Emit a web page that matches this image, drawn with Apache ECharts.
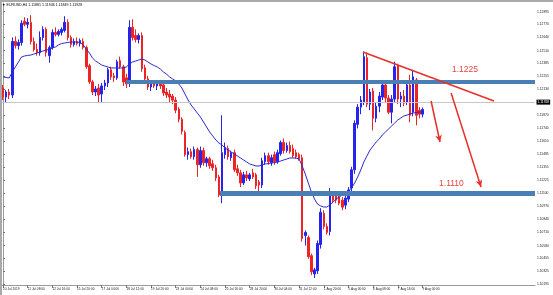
<!DOCTYPE html>
<html><head><meta charset="utf-8">
<script src="https://cdn.jsdelivr.net/npm/echarts@6/dist/echarts.min.js"></script>
<style>html,body{margin:0;padding:0;background:#fff}#c{width:553px;height:295px}</style>
</head><body><div id="c"></div>
<script>
const symbolName = 'EURUSD,H4';
const xTickLabels = ['10 Jul 2019','11 Jul 08:00','12 Jul 16:00','15 Jul 20:00','17 Jul 04:00','18 Jul 12:00','19 Jul 20:00','23 Jul 00:00','24 Jul 08:00','25 Jul 16:00','28 Jul 20:00','30 Jul 04:00','31 Jul 12:00','1 Aug 20:00','5 Aug 00:00','6 Aug 08:00','7 Aug 16:00','9 Aug 00:00'];
const yTickValues = [1.10195,1.10325,1.10455,1.10580,1.10710,1.10840,1.10970,1.11100,1.11225,1.11355,1.11485,1.11610,1.11740,1.11870,1.12000,1.12130,1.12255,1.12385,1.12510,1.12640,1.12770,1.12895];
const opens = [1.1214,1.1205,1.1210,1.1207,1.1260,1.1256,1.1259,1.1280,1.1277,1.1279,
1.1260,1.1252,1.1249,1.1264,1.1272,1.1246,1.1254,1.1269,1.1267,1.1269,
1.1271,1.1279,1.1264,1.1257,1.1260,1.1258,1.1260,1.1254,1.1236,1.1220,
1.1210,1.1214,1.1208,1.1216,1.1219,1.1232,1.1226,1.1224,1.1241,1.1235,
1.1224,1.1220,1.1274,1.1266,1.1262,1.1266,1.1234,1.1223,1.1215,1.1218,
1.1216,1.1219,1.1217,1.1210,1.1208,1.1206,1.1202,1.1193,1.1183,1.1170,
1.1148,1.1151,1.1146,1.1153,1.1138,1.1152,1.1140,1.1144,1.1139,1.1135,
1.1126,1.1108,1.1148,1.1154,1.1145,1.1150,1.1134,1.1130,1.1120,1.1128,
1.1124,1.1130,1.1128,1.1121,1.1118,1.1141,1.1147,1.1140,1.1148,1.1141,
1.1149,1.1160,1.1152,1.1157,1.1154,1.1150,1.1148,1.1145,1.1068,1.1066,
1.1048,1.1030,1.1033,1.1059,1.1090,1.1077,1.1072,1.1108,1.1109,1.1106,
1.1103,1.1098,1.1104,1.1115,1.1133,1.1178,1.1195,1.1200,1.1244,1.1198,
1.1211,1.1184,1.1196,1.1205,1.1217,1.1204,1.1190,1.1203,1.1236,1.1203,
1.1206,1.1200,1.1217,1.1190,1.1222,1.1192,1.11881];
const highs = [1.1217,1.1212,1.1213,1.1264,1.1265,1.1262,1.1281,1.1284,1.1283,1.1286,
1.1264,1.1258,1.1270,1.1275,1.1274,1.1256,1.1272,1.1274,1.1272,1.1274,
1.1285,1.1282,1.1266,1.1263,1.1264,1.1263,1.1263,1.1256,1.1238,1.1222,
1.1216,1.1218,1.1219,1.1222,1.1234,1.1235,1.1229,1.1242,1.1245,1.1237,
1.1228,1.1281,1.1282,1.1272,1.1268,1.1269,1.1237,1.1226,1.1220,1.1219,
1.1221,1.1222,1.1222,1.1214,1.1212,1.1208,1.1205,1.1195,1.1185,1.1172,
1.1155,1.1154,1.1156,1.1155,1.1156,1.1155,1.1146,1.1146,1.1143,1.1138,
1.1128,1.1187,1.1160,1.1157,1.1152,1.1153,1.1138,1.1133,1.1131,1.1132,
1.1130,1.1134,1.1130,1.1123,1.1145,1.1150,1.1150,1.1148,1.1151,1.1153,
1.1162,1.1164,1.1160,1.1161,1.1158,1.1153,1.1150,1.1148,1.1073,1.1068,
1.1050,1.1036,1.1063,1.1095,1.1093,1.1080,1.1115,1.1112,1.1112,1.1110,
1.1106,1.1108,1.1116,1.1136,1.1182,1.1198,1.1206,1.1250,1.1249,1.1213,
1.1214,1.1200,1.1210,1.1222,1.1220,1.1207,1.1207,1.1240,1.1238,1.1210,
1.1212,1.1220,1.1227,1.1232,1.1224,1.1195,1.11946];
const lows = [1.1202,1.1200,1.1203,1.1204,1.1253,1.1252,1.1256,1.1275,1.1273,1.1257,
1.1250,1.1246,1.1246,1.1261,1.1245,1.1239,1.1252,1.1265,1.1265,1.1266,
1.1269,1.1261,1.1254,1.1255,1.1256,1.1255,1.1252,1.1233,1.1218,1.1207,
1.1206,1.1199,1.1200,1.1212,1.1215,1.1222,1.1220,1.1222,1.1233,1.1216,
1.1214,1.1215,1.1261,1.1259,1.1258,1.1230,1.1220,1.1212,1.1211,1.1214,
1.1212,1.1213,1.1206,1.1204,1.1200,1.1198,1.1189,1.1180,1.1168,1.1146,
1.1143,1.1144,1.1143,1.1126,1.1135,1.1137,1.1136,1.1134,1.1132,1.1122,
1.1106,1.1100,1.1144,1.1143,1.1142,1.1131,1.1127,1.1116,1.1118,1.1122,
1.1122,1.1124,1.1114,1.1112,1.1115,1.1138,1.1138,1.1137,1.1138,1.1139,
1.1147,1.1149,1.1150,1.1149,1.1145,1.1144,1.1142,1.1062,1.1058,1.1045,
1.1029,1.1026,1.1030,1.1055,1.1074,1.1069,1.1068,1.1100,1.1100,1.1098,
1.1093,1.1094,1.1101,1.1112,1.1129,1.1174,1.1188,1.1197,1.1195,1.1192,
1.1172,1.1180,1.1190,1.1202,1.1200,1.1188,1.1179,1.1200,1.1198,1.1195,
1.1196,1.1197,1.1180,1.1186,1.1177,1.1184,1.11849];
const closes = [1.1205,1.1210,1.1207,1.1260,1.1256,1.1259,1.1278,1.1277,1.1279,1.1260,
1.1252,1.1249,1.1264,1.1272,1.1249,1.1254,1.1269,1.1267,1.1270,1.1272,
1.1279,1.1264,1.1257,1.1260,1.1258,1.1261,1.1254,1.1235,1.1220,1.1210,
1.1213,1.1207,1.1216,1.1219,1.1232,1.1225,1.1224,1.1240,1.1235,1.1220,
1.1218,1.1274,1.1264,1.1262,1.1266,1.1233,1.1223,1.1215,1.1218,1.1216,
1.1219,1.1216,1.1209,1.1207,1.1205,1.1202,1.1192,1.1183,1.1171,1.1148,
1.1151,1.1146,1.1153,1.1138,1.1152,1.1140,1.1144,1.1137,1.1135,1.1125,
1.1108,1.1150,1.1155,1.1146,1.1150,1.1133,1.1130,1.1120,1.1128,1.1125,
1.1128,1.1126,1.1117,1.1118,1.1142,1.1147,1.1141,1.1145,1.1141,1.1150,
1.1160,1.1152,1.1157,1.1151,1.1147,1.1146,1.1144,1.1065,1.1071,1.1047,
1.1032,1.1034,1.1060,1.1091,1.1077,1.1071,1.1108,1.1103,1.1103,1.1100,
1.1096,1.1105,1.1113,1.1133,1.1179,1.1195,1.1202,1.1245,1.1198,1.1210,
1.1184,1.1196,1.1206,1.1217,1.1204,1.1190,1.1203,1.1235,1.1203,1.1206,
1.1199,1.1217,1.1187,1.1225,1.1187,1.11881,1.11928];
const maValues = [1.12249,1.12244,1.12239,1.12298,1.12348,1.12397,1.12447,1.12457,1.12462,1.12466,
1.12476,1.12486,1.12496,1.12506,1.12516,1.12521,1.12536,1.12546,1.12566,1.12580,
1.12585,1.12590,1.12595,1.12595,1.12595,1.12590,1.12566,1.12526,1.12486,1.12437,
1.12407,1.12387,1.12367,1.12357,1.12348,1.12338,1.12338,1.12338,1.12338,1.12338,
1.12348,1.12377,1.12397,1.12407,1.12417,1.12427,1.12417,1.12397,1.12377,1.12362,
1.12348,1.12328,1.12298,1.12278,1.12249,1.12229,1.12209,1.12179,1.12140,1.12080,
1.12021,1.11971,1.11932,1.11892,1.11853,1.11803,1.11754,1.11704,1.11665,1.11625,
1.11595,1.11576,1.11546,1.11526,1.11506,1.11487,1.11467,1.11447,1.11427,1.11407,
1.11388,1.11378,1.11368,1.11368,1.11378,1.11388,1.11392,1.11397,1.11402,1.11407,
1.11417,1.11427,1.11437,1.11447,1.11447,1.11447,1.11437,1.11368,1.11288,1.11199,
1.11110,1.11041,1.10991,1.10972,1.10962,1.10962,1.10982,1.11011,1.11041,1.11061,
1.11080,1.11100,1.11120,1.11150,1.11199,1.11259,1.11328,1.11407,1.11467,1.11526,
1.11566,1.11605,1.11635,1.11675,1.11704,1.11734,1.11764,1.11793,1.11823,1.11843,
1.11863,1.11872,1.11882,1.11892,1.11897,1.11902,1.11902];
// annotation levels (bar index, price)
const resistanceBand = [[39.9, 1.1220], [172.5, 1.1220]];
const supportBand = [[70.35, 1.1110], [172.5, 1.1110]];
const trendLine = [[116.7, 1.12496], [159.2, 1.12011]];
const arrowShort = [[138.8, 1.12011], [141.7, 1.11605]];
const arrowLong = [[145.3, 1.12090], [155.0, 1.11160]];
const levelTexts = [['1.1225', 149.8, 1.12318], ['1.1110', 145.4, 1.11189]];

const slotCount = 173;
const categories = Array.from({length: slotCount}, (_, i) => i);
const last = closes.length - 1;
const candleData = opens.map((o, i) => [o, closes[i], lows[i], highs[i]]);
const FONT = '"Liberation Sans", Arial, sans-serif';
const RED = '#e8302a';
const BAND = '#4a7fb5';

const seg = (pts, color, width, arrow) => [
  {coord: pts[0], symbol: 'none', lineStyle: {color: color, width: width, type: 'solid', cap: 'butt'}},
  {coord: pts[1], symbol: arrow ? 'arrow' : 'none', symbolSize: arrow ? [5, 7] : 0}
];

const chart = echarts.init(document.getElementById('c'), null, {renderer: 'canvas'});
chart.setOption({
  animation: false,
  backgroundColor: '#ffffff',
  title: {
    text: '\u25BC ' + symbolName + ' ' + [opens[last], highs[last], lows[last], closes[last]].map(v => v.toFixed(5)).join(' '),
    left: 2, top: 3, padding: 0,
    textStyle: {fontSize: 3.6, fontWeight: 'normal', color: '#000', fontFamily: FONT}
  },
  grid: {left: 1.5, right: 18, top: 3, bottom: 10, show: false},
  graphic: [
    {type: 'rect', shape: {x: 0, y: 0, width: 553, height: 2}, style: {fill: '#a9a9a9'}, z: 100},
    {type: 'rect', shape: {x: 0, y: 0, width: 2, height: 295}, style: {fill: '#a9a9a9'}, z: 100}
  ],
  xAxis: [
    {
      type: 'category', data: categories, boundaryGap: true,
      axisLine: {show: true, lineStyle: {color: '#9a9a9a', width: 1}},
      axisTick: {show: true, length: 3, alignWithLabel: true,
        interval: (i) => i % 8 === 0 && i / 8 < xTickLabels.length,
        lineStyle: {color: '#777'}},
      axisLabel: {show: true, interval: (i) => i % 8 === 0 && i / 8 < xTickLabels.length,
        formatter: (v, i) => xTickLabels[i / 8] || '',
        fontSize: 3.2, color: '#222', align: 'left', margin: 2.5, fontFamily: FONT},
      splitLine: {show: false}
    },
    {type: 'value', min: -0.5, max: slotCount - 0.5, show: false}
  ],
  yAxis: {
    type: 'value', position: 'right', min: 1.10190, max: 1.12981,
    axisLine: {show: true, lineStyle: {color: '#9a9a9a', width: 1}},
    axisTick: {show: true, length: 2, customValues: yTickValues, lineStyle: {color: '#777'}},
    axisLabel: {show: true, customValues: yTickValues, formatter: v => v.toFixed(5),
      fontSize: 3.3, color: '#222', margin: 2, fontFamily: FONT},
    splitLine: {show: false}
  },
  series: [
    {
      type: 'line', xAxisIndex: 1, data: [], z: 1, silent: true,
      markLine: {
        silent: true, symbol: 'none', animation: false,
        data: [{
          yAxis: closes[last],
          lineStyle: {color: '#c6c6c6', width: 1, type: 'solid'},
          label: {show: true, position: 'end', formatter: closes[last].toFixed(5),
            backgroundColor: '#000', color: '#fff', fontSize: 3.3, padding: [1, 1, 1, 1],
            distance: 1.5, fontFamily: FONT}
        }]
      }
    },
    {
      type: 'candlestick', xAxisIndex: 0, data: candleData, barWidth: 2, z: 2, silent: true,
      itemStyle: {color: '#2424ee', color0: '#ee2424', borderColor: '#2424ee', borderColor0: '#ee2424', borderWidth: 1}
    },
    {
      type: 'line', xAxisIndex: 0, data: maValues, showSymbol: false, z: 3, silent: true,
      lineStyle: {color: '#2b2bc8', width: 1}
    },
    {
      type: 'line', xAxisIndex: 1, data: [], z: 4, silent: true,
      markLine: {
        silent: true, animation: false, label: {show: false},
        data: [
          seg(resistanceBand, BAND, 4, false),
          seg(supportBand, BAND, 5, false),
          seg(trendLine, RED, 1.5, false),
          seg(arrowShort, RED, 1.5, true),
          seg(arrowLong, RED, 1.5, true)
        ]
      },
      markPoint: {
        silent: true, animation: false,
        data: levelTexts.map(t => ({
          coord: [t[1], t[2]], symbol: 'circle', symbolSize: 1,
          itemStyle: {color: 'rgba(0,0,0,0)'},
          label: {show: true, position: 'inside', formatter: t[0], color: '#e5463c', fontSize: 8.5, fontFamily: FONT}
        }))
      }
    }
  ]
});
</script>
</body></html>
